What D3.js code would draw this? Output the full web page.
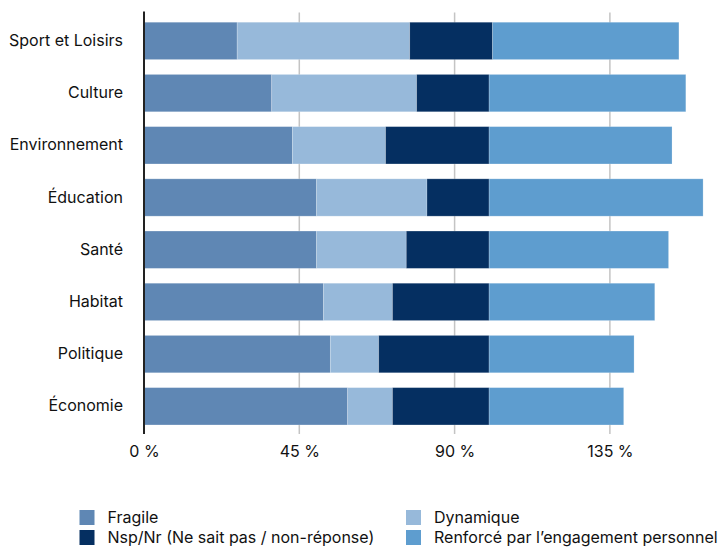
<!DOCTYPE html>
<html>
<head>
<meta charset="utf-8">
<script src="https://cdn.jsdelivr.net/npm/d3@7"></script>
<style>
  html, body { margin: 0; padding: 0; background: #fff; }
  svg { display: block; font-family: Inter, "Liberation Sans", Arial, sans-serif; }
</style>
</head>
<body>
<svg id="chart" width="722" height="547"></svg>
<script>
// Domains of engagement, top to bottom
const categories = ["Sport et Loisirs", "Culture", "Environnement", "Éducation", "Santé", "Habitat", "Politique", "Économie"];

// Shares in %, per domain
const fragile   = [27, 37, 43, 50, 50, 52, 54, 59];
const dynamique = [50, 42, 27, 32, 26, 20, 14, 13];
const nspNr     = [24, 21, 30, 18, 24, 28, 32, 28];
const renforce  = [54, 57, 53, 62, 52, 48, 42, 39];

const seriesNames = ["Fragile", "Dynamique", "Nsp/Nr (Ne sait pas / non-réponse)", "Renforcé par l’engagement personnel"];
const seriesColors = ["#5f87b4", "#97b9da", "#052f61", "#5e9dcf"];
const tickValues = [0, 45, 90, 135];

const rows = categories.map((c, i) => ({
  category: c,
  s0: fragile[i], s1: dynamique[i], s2: nspNr[i], s3: renforce[i]
}));
const keys = ["s0", "s1", "s2", "s3"];
const stacked = d3.stack().keys(keys)(rows);

const svg = d3.select("#chart");
const fontFamily = "Inter, \"Liberation Sans\", Arial, sans-serif";

const x = d3.scaleLinear().domain([0, 45]).range([144, 299.3]);
const y = d3.scaleBand().domain(categories).range([14.8, 432.4]).paddingInner(0.285).paddingOuter(0.1425);

// vertical gridlines
svg.append("g")
  .selectAll("line")
  .data(tickValues.slice(1))
  .join("line")
  .attr("x1", d => x(d)).attr("x2", d => x(d))
  .attr("y1", 12.5).attr("y2", 434)
  .attr("stroke", "#c4c4c4")
  .attr("stroke-width", 1.5);

// stacked bars
svg.append("g")
  .selectAll("g")
  .data(stacked)
  .join("g")
  .attr("fill", (d, i) => seriesColors[i])
  .selectAll("rect")
  .data(d => d)
  .join("rect")
  .attr("x", d => x(d[0]))
  .attr("width", d => x(d[1]) - x(d[0]))
  .attr("y", d => y(d.data.category))
  .attr("height", y.bandwidth())
  .attr("stroke", "#ffffff")
  .attr("stroke-opacity", 0.25)
  .attr("stroke-width", 0.8);

// category axis
const yAxis = svg.append("g")
  .attr("transform", `translate(${x(0)},0)`)
  .call(d3.axisLeft(y).tickSize(0).tickPadding(21));
yAxis.select(".domain").remove();
yAxis.selectAll("text")
  .attr("font-size", 16)
  .attr("fill", "#111")
  .style("font-family", fontFamily);

// baseline at zero
svg.append("line")
  .attr("x1", x(0)).attr("x2", x(0))
  .attr("y1", 11.5).attr("y2", 434)
  .attr("stroke", "#222")
  .attr("stroke-width", 2);

// value axis labels
const xAxis = svg.append("g")
  .attr("transform", "translate(0,434)")
  .call(d3.axisBottom(x).tickValues(tickValues).tickSize(0).tickPadding(11.5).tickFormat(d => d + " %"));
xAxis.select(".domain").remove();
xAxis.selectAll("text")
  .attr("font-size", 16)
  .attr("fill", "#111")
  .style("font-family", fontFamily);

// legend
const legendPos = [[79.5, 510], [406, 510], [79.5, 530], [406, 530]];
const legendOrder = [0, 1, 2, 3];
const legend = svg.append("g")
  .selectAll("g")
  .data(legendOrder)
  .join("g")
  .attr("transform", i => `translate(${legendPos[i][0]},${legendPos[i][1]})`);
legend.append("rect")
  .attr("width", 15).attr("height", 15)
  .attr("fill", i => seriesColors[i]);
legend.append("text")
  .attr("x", 28).attr("y", 13)
  .attr("font-size", 16)
  .attr("fill", "#111")
  .style("font-family", fontFamily)
  .text(i => seriesNames[i]);
</script>
</body>
</html>
